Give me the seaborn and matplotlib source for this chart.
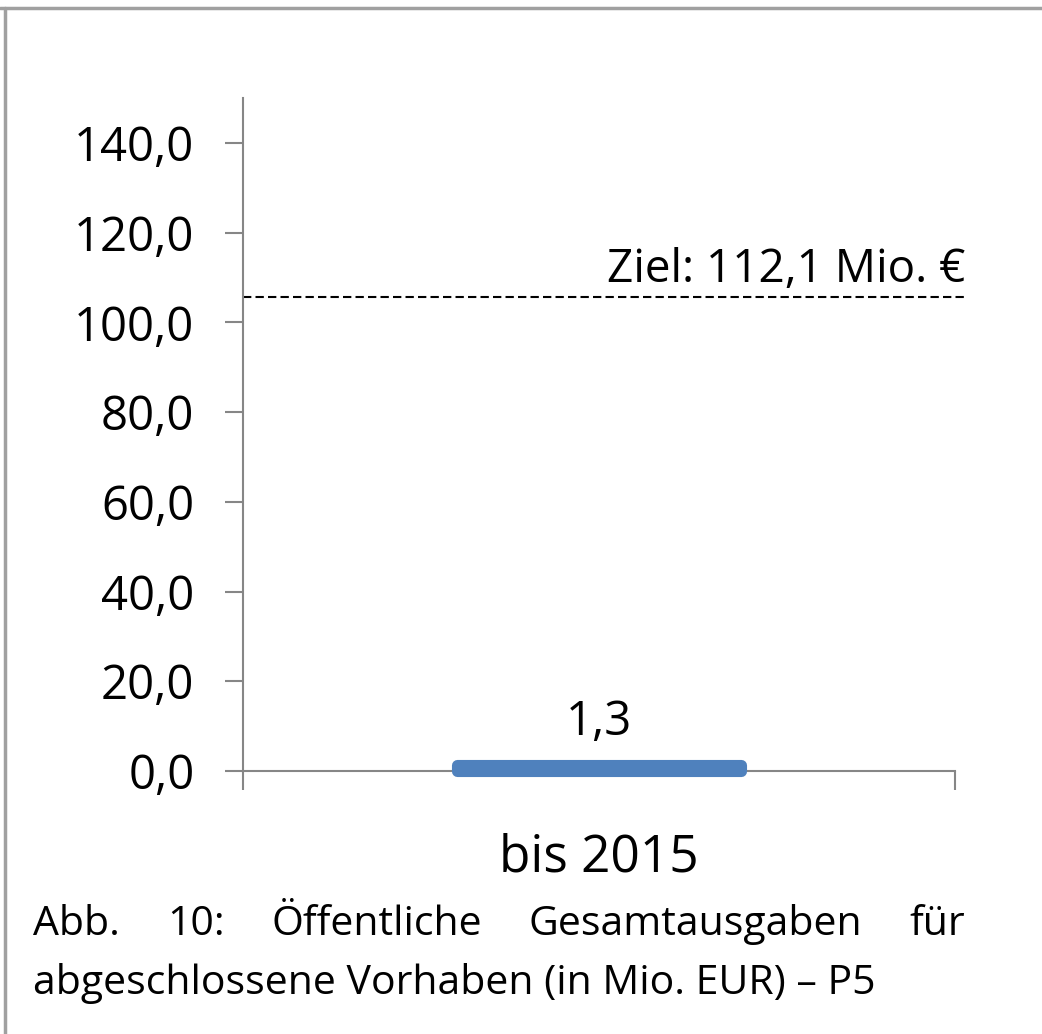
import matplotlib
matplotlib.use('Agg')
import matplotlib.pyplot as plt
import seaborn as sns
import pandas as pd
from matplotlib.lines import Line2D

# chart values
categories = ['bis 2015']
values = [1.3]
bar_labels = ['1,3']
target_value = 105.6
target_label = 'Ziel: 112,1 Mio. €'
yticks = [0, 20, 40, 60, 80, 100, 120, 140]
ytick_labels = ['0,0', '20,0', '40,0', '60,0', '80,0', '100,0', '120,0', '140,0']
caption_line1 = ['Abb.', '10:', 'Öffentliche', 'Gesamtausgaben', 'für']
caption_line2 = 'abgeschlossene Vorhaben (in Mio. EUR) – P5'

sns.set_style('white')
plt.rcParams['font.family'] = ['Open Sans', 'DejaVu Sans']
plt.rcParams['text.color'] = 'black'
plt.rcParams['xtick.labelcolor'] = 'black'
plt.rcParams['ytick.labelcolor'] = 'black'

axis_grey = '#868686'
bar_blue = '#4F81BD'

fig = plt.figure(figsize=(10.42, 10.34), dpi=100)
ax = fig.add_axes([0.2332, 0.2544, 0.6833, 0.6508])

df = pd.DataFrame({'Zeitraum': categories, 'Wert': values})
sns.barplot(data=df, x='Zeitraum', y='Wert', color=bar_blue, saturation=1,
            width=0.40, ax=ax)
for p in ax.patches:
    p.set_edgecolor(bar_blue)
    p.set_linewidth(8)
    p.set_joinstyle('round')
    p.set_zorder(3)
    p.set_clip_on(False)

ax.set_xlim(-0.5, 0.5)
ax.set_ylim(0, 150)
ax.set_xlabel('')
ax.set_ylabel('')

# y axis
ax.set_yticks(yticks)
ax.set_yticklabels(ytick_labels)
ax.tick_params(axis='y', direction='out', length=13, width=1.5, color=axis_grey,
               labelsize=34, pad=22, left=True)

# x axis: tick marks between categories, label in the middle
ax.set_xticks([-0.5, 0.5])
ax.set_xticklabels(['', ''])
ax.set_xticks([0], minor=True)
ax.set_xticklabels(categories, minor=True)
ax.tick_params(axis='x', which='major', direction='out', length=14, width=1.5,
               color=axis_grey, bottom=True)
ax.tick_params(axis='x', which='minor', length=0, labelsize=37, pad=44)

sns.despine(ax=ax, top=True, right=True)
for s in ['left', 'bottom']:
    ax.spines[s].set_color(axis_grey)
    ax.spines[s].set_linewidth(1.5)

ax.bar_label(ax.containers[0], labels=bar_labels, fontsize=34, padding=14)

# target line
ax.plot([-0.5, 0.514], [target_value, target_value], color='black', lw=1.5,
        ls=(0, (4, 2)), clip_on=False)
ax.text(0.514, 109.0, target_label, fontsize=33, ha='right', va='baseline')

# frame lines (top and left)
fig.add_artist(Line2D([0, 1], [1 - 7.5 / 1034] * 2, transform=fig.transFigure,
                      color='#a0a0a0', lw=2.5))
fig.add_artist(Line2D([5 / 1042] * 2, [0, 1 - 7.5 / 1034], transform=fig.transFigure,
                      color='#a0a0a0', lw=2.5))

# caption, first line justified
cap_size = 29.5
x_left, x_right = 33 / 1042, 965 / 1042
y1, y2 = 1 - 935 / 1034, 1 - 994 / 1034
words = [fig.text(0, y1, w, fontsize=cap_size, va='baseline') for w in caption_line1]
fig.canvas.draw()
r = fig.canvas.get_renderer()
widths = [t.get_window_extent(r).width / fig.bbox.width for t in words]
gap = (x_right - x_left - sum(widths)) / (len(words) - 1)
x = x_left
for t, w in zip(words, widths):
    t.set_x(x)
    x += w + gap
fig.text(x_left, y2, caption_line2, fontsize=cap_size, va='baseline')

fig.savefig('out.png', dpi=100)
